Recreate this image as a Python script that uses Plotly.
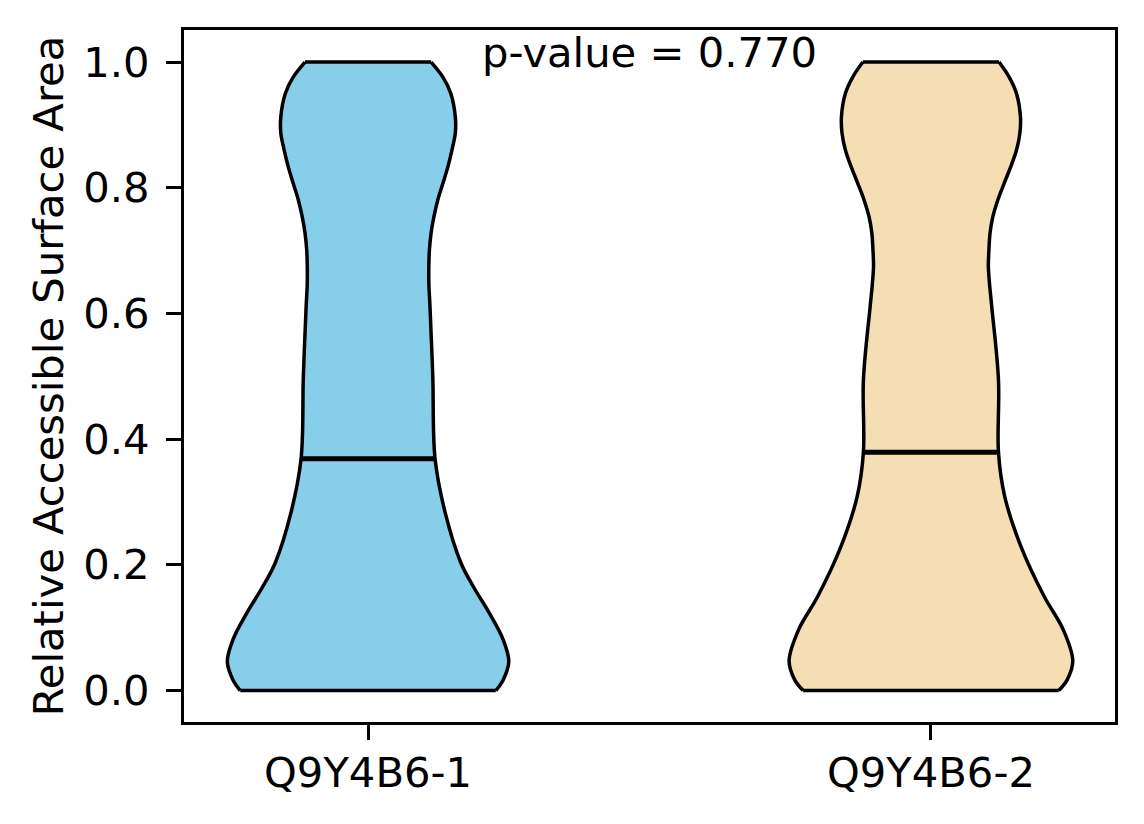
import plotly.graph_objects as go

# categories and colours
isoforms = ['Q9Y4B6-1', 'Q9Y4B6-2']
colors = ['#87CEEB', '#F5DEB3']
p_value = 0.770

# violin outlines: RSA level and half width of the density body
rsa_1 = [0.0, 0.017, 0.046, 0.081, 0.124, 0.164, 0.203, 0.283, 0.369, 0.499,
         0.611, 0.648, 0.675, 0.701, 0.728, 0.754, 0.781, 0.807, 0.834, 0.860,
         0.887, 0.913, 0.950, 0.976, 1.0]
half_1 = [0.227, 0.240, 0.250, 0.240, 0.215, 0.188, 0.165, 0.137, 0.119, 0.115,
          0.110, 0.108, 0.108, 0.109, 0.112, 0.117, 0.124, 0.133, 0.142, 0.149,
          0.155, 0.155, 0.147, 0.133, 0.112]
median_1 = 0.369

rsa_2 = [0.0, 0.017, 0.047, 0.097, 0.150, 0.229, 0.309, 0.379, 0.494,
         0.611, 0.648, 0.675, 0.701, 0.728, 0.754, 0.781, 0.807, 0.834, 0.860,
         0.887, 0.913, 0.950, 0.976, 1.0]
half_2 = [0.227, 0.242, 0.252, 0.235, 0.201, 0.160, 0.131, 0.120, 0.120,
          0.108, 0.104, 0.102, 0.103, 0.105, 0.110, 0.119, 0.130, 0.142, 0.152,
          0.158, 0.159, 0.152, 0.139, 0.121]
median_2 = 0.379

violins = [(rsa_1, half_1, median_1), (rsa_2, half_2, median_2)]

fig = go.Figure()
edge = dict(color='black', width=3.5)

for i, (rsa, half, med) in enumerate(violins):
    pos = i + 1
    # left side, then right side filled back to it
    fig.add_trace(go.Scatter(x=[pos - h for h in half], y=rsa, mode='lines',
                             line=dict(edge, shape='spline'), hoverinfo='skip'))
    fig.add_trace(go.Scatter(x=[pos + h for h in half], y=rsa, mode='lines',
                             line=dict(edge, shape='spline'), fill='tonextx',
                             fillcolor=colors[i], hoverinfo='skip'))
    # flat ends where the kde is cut
    for j in (0, -1):
        fig.add_trace(go.Scatter(x=[pos - half[j], pos + half[j]], y=[rsa[j], rsa[j]],
                                 mode='lines', line=edge, hoverinfo='skip'))
    # median bar across the body
    mh = half[rsa.index(med)]
    fig.add_trace(go.Scatter(x=[pos - mh, pos + mh], y=[med, med], mode='lines',
                             line=dict(color='black', width=5), hoverinfo='skip'))

fig.add_annotation(x=1.5, y=1.016, xref='x', yref='y', text=f'p-value = {p_value:.3f}',
                   showarrow=False, font=dict(size=41.7, color='black'), yanchor='middle')

fig.update_layout(
    width=1144, height=824,
    margin=dict(l=184, r=29, t=30, b=102),
    plot_bgcolor='white', paper_bgcolor='white',
    showlegend=False,
    font=dict(family='DejaVu Sans', size=41.7, color='black'),
)
fig.update_xaxes(range=[0.673, 2.327], tickvals=[1, 2], ticktext=isoforms,
                 showgrid=False, zeroline=False, showline=True, mirror=True,
                 linecolor='black', linewidth=3, ticks='outside', ticklen=15,
                 tickwidth=3, tickcolor='black', ticklabelstandoff=-3)
fig.update_yaxes(range=[-0.05, 1.051], tickvals=[0, 0.2, 0.4, 0.6, 0.8, 1.0],
                 tickformat='.1f', showgrid=False, zeroline=False, showline=True,
                 mirror=True, linecolor='black', linewidth=3, ticks='outside',
                 ticklen=15, tickwidth=3, tickcolor='black', ticklabelstandoff=8,
                 title=dict(text='Relative Accessible Surface Area', standoff=7,
                            font=dict(size=41.7)))

fig.write_html('out.html', config={'displayModeBar': False},
               post_script="document.body.style.margin='0';")
